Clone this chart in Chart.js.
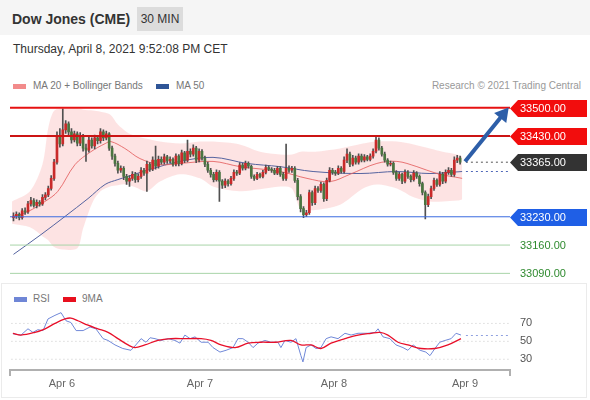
<!DOCTYPE html>
<html><head><meta charset="utf-8">
<script src="https://cdn.jsdelivr.net/npm/chart.js@4.4.1/dist/chart.umd.min.js"></script>
<style>
body{margin:0;width:590px;height:400px;position:relative;overflow:hidden;background:#fff;font-family:"Liberation Sans",Arial,sans-serif}
.a{position:absolute;white-space:nowrap}
canvas{position:absolute;left:0;top:0}
</style></head><body>
<div class="a" style="left:0;top:0;width:590px;height:35px;background:#f5f5f5"></div>
<div class="a" style="left:12px;top:11px;font-size:14px;font-weight:bold;color:#333;line-height:17px">Dow Jones (CME)</div>
<div class="a" style="left:137px;top:7px;width:46px;height:24px;background:#dcdcdc;font-size:12px;color:#333;line-height:24px;text-align:center">30 MIN</div>
<div class="a" style="left:13px;top:42px;font-size:12px;color:#333;line-height:14px">Thursday, April 8, 2021 9:52:08 PM CET</div>
<div class="a" style="left:13px;top:84px;width:13px;height:5px;background:#f28b8b"></div>
<div class="a" style="left:33px;top:80px;font-size:10px;color:#777;line-height:12px">MA 20 + Bollinger Bands</div>
<div class="a" style="left:156px;top:84px;width:13px;height:5px;background:#2f5597"></div>
<div class="a" style="left:176px;top:80px;font-size:10px;color:#777;line-height:12px">MA 50</div>
<div class="a" style="right:9px;top:80px;font-size:10px;color:#999;line-height:12px">Research © 2021 Trading Central</div>
<div class="a" style="left:1px;top:283px;width:584px;height:113px;border:1px solid #ebebeb"></div>
<div class="a" style="left:14px;top:297px;width:13px;height:5px;background:#6f86d6"></div>
<div class="a" style="left:33px;top:293px;font-size:10px;color:#777;line-height:12px">RSI</div>
<div class="a" style="left:63px;top:297px;width:13px;height:5px;background:#e8101e"></div>
<div class="a" style="left:82px;top:293px;font-size:10px;color:#777;line-height:12px">9MA</div>
<canvas id="c1" width="590" height="400"></canvas>
<canvas id="c2" width="590" height="400"></canvas>
<script>
// ---- candles (30 min bars, index 0..154) ----
const opens=[33228,33232,33236,33228,33245,33242,33262,33270,33258,33266,33262,33278,33284,33300,33325,33365,33430,33410,33445,33460,33440,33420,33435,33412,33430,33400,33395,33420,33405,33425,33418,33440,33425,33435,33400,33380,33362,33345,33350,33330,33318,33325,33335,33322,33330,33345,33338,33360,33348,33370,33355,33372,33365,33378,33368,33372,33360,33380,33362,33388,33370,33392,33385,33400,33370,33392,33375,33360,33345,33335,33322,33340,33318,33308,33318,33312,33325,33340,33338,33358,33350,33362,33355,33330,33325,33335,33330,33340,33352,33348,33345,33338,33350,33335,33325,33350,33345,33350,33320,33280,33250,33235,33240,33290,33265,33300,33295,33310,33275,33320,33345,33340,33338,33350,33342,33370,33385,33360,33375,33365,33380,33370,33378,33372,33380,33392,33420,33400,33385,33370,33360,33362,33340,33325,33335,33318,33340,33330,33322,33338,33330,33312,33290,33260,33280,33300,33320,33310,33335,33318,33340,33345,33335,33370,33375];
const highs=[33240,33242,33240,33250,33252,33268,33278,33275,33272,33270,33285,33290,33306,33332,33372,33440,33448,33497,33468,33465,33448,33442,33440,33438,33434,33410,33428,33425,33432,33430,33448,33445,33442,33438,33405,33385,33368,33356,33354,33335,33332,33342,33340,33336,33352,33350,33368,33364,33378,33405,33380,33378,33385,33382,33378,33376,33386,33384,33395,33392,33420,33398,33408,33404,33398,33396,33380,33365,33350,33340,33346,33344,33322,33324,33322,33330,33346,33345,33364,33362,33368,33366,33358,33334,33340,33338,33345,33358,33356,33352,33350,33355,33354,33340,33410,33356,33355,33354,33325,33285,33255,33246,33296,33294,33306,33305,33316,33314,33326,33352,33350,33345,33356,33354,33378,33398,33390,33382,33380,33386,33385,33384,33382,33386,33398,33428,33425,33404,33390,33374,33368,33366,33344,33340,33338,33346,33344,33334,33344,33342,33334,33316,33294,33286,33306,33326,33324,33342,33340,33346,33352,33350,33378,33382,33380];
const lows=[33220,33226,33222,33224,33236,33238,33256,33254,33252,33256,33258,33272,33280,33296,33320,33360,33402,33405,33436,33432,33412,33415,33405,33406,33392,33367,33390,33400,33398,33410,33412,33418,33420,33394,33372,33355,33338,33340,33322,33310,33305,33320,33315,33316,33325,33332,33293,33342,33344,33348,33350,33360,33360,33362,33364,33355,33356,33356,33358,33364,33366,33378,33380,33364,33366,33370,33354,33340,33328,33316,33318,33268,33300,33302,33306,33308,33320,33332,33334,33345,33346,33350,33325,33320,33322,33326,33326,33336,33344,33340,33334,33334,33330,33320,33320,33340,33340,33315,33272,33242,33228,33230,33236,33258,33260,33290,33290,33268,33270,33316,33335,33332,33334,33338,33338,33364,33354,33356,33360,33360,33366,33366,33368,33368,33375,33388,33395,33380,33365,33355,33356,33335,33320,33320,33312,33314,33325,33316,33318,33325,33306,33284,33225,33255,33275,33295,33305,33306,33312,33314,33335,33330,33330,33364,33360];
const closes=[33232,33236,33228,33245,33242,33262,33270,33258,33266,33262,33278,33284,33300,33325,33365,33430,33410,33445,33460,33440,33420,33435,33412,33430,33400,33395,33420,33405,33425,33418,33440,33425,33435,33400,33380,33362,33345,33350,33330,33318,33325,33335,33322,33330,33345,33338,33360,33348,33370,33355,33372,33365,33378,33368,33372,33360,33380,33362,33388,33370,33392,33385,33400,33370,33392,33375,33360,33345,33335,33322,33340,33318,33308,33318,33312,33325,33340,33338,33358,33350,33362,33355,33330,33325,33335,33330,33340,33352,33348,33345,33338,33350,33335,33325,33350,33345,33350,33320,33280,33250,33235,33240,33290,33265,33300,33295,33310,33275,33320,33345,33340,33338,33350,33342,33370,33385,33360,33375,33365,33380,33370,33378,33372,33380,33392,33420,33400,33385,33370,33360,33362,33340,33325,33335,33318,33340,33330,33322,33338,33330,33312,33290,33260,33280,33300,33320,33310,33335,33318,33340,33345,33335,33370,33375,33365];
// ---- Bollinger bands / moving averages (sampled along bar index) ----
const bandX=[-0.5,5.7,10,12,14,17,22,24,27.4,30,33.3,36,39,42,46,50.5,57.4,64.3,68.8,78,85,92,96,99,104,112.6,120.5,125.3,132.2,138,143.6,148,153,154.7];
const bandUpper=[33268,33293,33360,33450,33492,33497,33497,33495,33493,33490,33483,33458,33440,33430,33423,33416,33411,33416,33416,33409,33391,33384,33384,33391,33391,33399,33411,33416,33416,33409,33399,33391,33384,33379];
const bandLower=[33213,33204,33182,33172,33155,33149,33152,33201,33268,33293,33305,33308,33310,33303,33293,33317,33335,33325,33305,33293,33298,33305,33300,33250,33247,33260,33300,33310,33300,33278,33268,33268,33270,33273];
const ma20X=[0,5,10.9,15.3,21.2,26.7,31.6,33.6,38.4,43.6,50.5,57.4,68.8,78.1,91.9,101.2,109.1,116,125.3,132.2,139.1,146,154.7];
const ma20=[33231,33243,33268,33293,33359,33391,33411,33416,33399,33374,33359,33362,33367,33354,33342,33325,33317,33335,33362,33367,33354,33337,33325];
const ma50X=[0,9.5,17.8,25.7,31.6,36,39.5,47,57.4,68.8,80.5,91.9,103.3,119.5,132.2,143.6,154.7];
const ma50=[33137,33186,33231,33275,33310,33322,33330,33347,33367,33377,33362,33354,33342,33337,33342,33337,33342];
// ---- levels ----
const resistanceLevels=[33500,33430];
const supportLevels=[33230,33160,33090];
const lastPrice=33365;
const arrowX=[155.7,168.8];
const arrowY=[33367,33483];
// ---- RSI panel ----
const rsiX=[-0.2,2.6,5,6.7,8.4,10.2,11.9,14.3,16.4,18.1,19.8,21.6,24,26.4,28.4,30.9,32.6,35,37.7,40.5,42.2,44,45.7,47.1,48.8,50.9,53.3,55.7,57.4,59.1,60.9,62.6,64.7,67.1,68.8,71.2,73.3,75.7,77.4,79.1,80.9,82.6,84.3,86.7,88.8,91.2,92.2,93.6,95.7,97.4,99.1,99.8,100.9,102.6,104.3,106,107.8,109.5,111.9,114.3,116.4,118.8,122.2,124.7,125.7,127.4,129.8,131.9,134.3,136,137.8,140.2,142.2,143.6,145.3,147,148.8,150.9,152.6,154.3];
const rsi=[58.5,57,64,60,63,62,75,79,82,73,71,62,62,66,64,53,51,46,42,40,46,53,49,54,53,51,53,51,48,57,53,55,49,49,43,38,40,43,53,53,49,43,48,51,49,49,43,51,49,53,34,27,43,46,42,43,53,55,53,59,57,59,59,60,64,55,53,46,43,40,46,40,38,34,42,49,51,53,59,57];
const ma9X=[-0.2,2.6,7.4,10.9,14.3,17.8,19.8,22.2,25.7,29.1,32.6,36,39.5,41.9,45.3,49.8,54.3,59.1,64.7,68.1,71.6,76.4,80.9,85.3,90.2,95.7,99.1,102.6,106,109.5,114.3,118.8,123.3,126.4,129.1,132.6,136,140.5,145.3,149.8,154.3];
const ma9=[59,57,60,64,70,75,76,73,68,64,60,53,46,43,46,51,53,53,53,51,46,43,48,49,49,51,46,46,42,48,53,57,59,60,57,49,46,42,42,46,53];
const rsiLevels=[70,50,30];
const rsiLast=56.5;
// ---- time axis ----
const dateTickX=[16.7,64.3,110.5,155.7];
const dateTickLabels=['Apr 6','Apr 7','Apr 8','Apr 9'];

const X_MIN=-1.2, X_MAX=171.2, X_END=156;
const FONT='"Liberation Sans", Arial, sans-serif';
const pts=(xs,ys)=>xs.map((x,i)=>({x,y:ys[i]}));
const hline=(y,x0,x1)=>[{x:x0===undefined?X_MIN:x0,y},{x:x1===undefined?X_MAX:x1,y}];
const lineDs=(data,color,width,extra)=>Object.assign({type:'line',data,borderColor:color,borderWidth:width,pointRadius:0,fill:false,tension:0},extra||{});

const resColors=['#e61212','#cc1414'];
const supColors=['#3a6be0','#a9d4a9','#a9d4a9'];
const mainSets=[
  lineDs(pts(arrowX,arrowY),'#2d5ea8',4,{order:0,clip:false,pointRadius:[0,9],pointStyle:'triangle',pointRotation:39,pointBackgroundColor:'#2d5ea8',pointBorderWidth:0}),
  ...resistanceLevels.map((v,i)=>lineDs(hline(v),resColors[i],2,{order:1})),
  ...supportLevels.map((v,i)=>lineDs(hline(v),supColors[i],1,{order:1})),
  lineDs(hline(lastPrice,X_END),'#555',1,{borderDash:[2,3],order:1}),
  lineDs(hline(ma50[ma50.length-1],X_END),'#5068b8',1,{borderDash:[2,3],order:1}),
  {type:'bar',data:closes.map((c,i)=>({x:i,y:[opens[i],c]})),backgroundColor:closes.map((c,i)=>c>=opens[i]?'#c92a2a':'#4a7540'),barThickness:2,grouped:false,minBarLength:1,order:3},
  {type:'bar',data:closes.map((c,i)=>({x:i,y:[lows[i],highs[i]]})),backgroundColor:'#505050',barThickness:1,grouped:false,order:4},
  lineDs(pts(ma20X,ma20),'rgba(228,95,95,0.85)',1,{order:6,tension:0.35}),
  lineDs(pts(ma50X,ma50),'#55639f',1,{order:6,tension:0.35}),
  lineDs(pts(bandX,bandUpper),'rgba(0,0,0,0)',0,{fill:'+1',backgroundColor:'rgba(245,90,90,0.17)',order:10,tension:0.3}),
  lineDs(pts(bandX,bandLower),'rgba(0,0,0,0)',0,{order:10,tension:0.3})
];

const levelLabels={id:'levelLabels',afterDatasetsDraw(chart){
  const ctx=chart.ctx, ys=chart.scales.y, x0=chart.chartArea.right;
  ctx.save();
  ctx.font='11px '+FONT; ctx.textBaseline='middle'; ctx.textAlign='left';
  const boxes=[[resistanceLevels[0],'#f20d0d'],[resistanceLevels[1],'#f20d0d'],[lastPrice,'#333333'],[supportLevels[0],'#1f5fe6']];
  boxes.forEach(([v,c])=>{
    const py=Math.round(ys.getPixelForValue(v))+0.5;
    ctx.fillStyle=c; ctx.beginPath();
    ctx.moveTo(x0,py); ctx.lineTo(x0+8,py-8.5); ctx.lineTo(587,py-8.5); ctx.lineTo(587,py+8.5); ctx.lineTo(x0+8,py+8.5); ctx.closePath(); ctx.fill();
    ctx.fillStyle='#fff'; ctx.fillText(v.toFixed(2),x0+10,py+0.5);
  });
  supportLevels.slice(1).forEach(v=>{
    const py=Math.round(ys.getPixelForValue(v))+0.5;
    ctx.fillStyle='#2f8a2f'; ctx.fillText(v.toFixed(2),x0+10,py+0.5);
  });
  ctx.restore();
}};

new Chart(document.getElementById('c1'),{
  type:'bar',
  data:{datasets:mainSets},
  options:{responsive:false,animation:false,devicePixelRatio:1,
    layout:{padding:{left:10,right:80,top:95.5,bottom:114.5}},
    plugins:{legend:{display:false},tooltip:{enabled:false}},
    scales:{
      x:{type:'linear',min:X_MIN,max:X_MAX,offset:false,display:false},
      y:{type:'linear',min:33060,max:33530,display:false}
    }},
  plugins:[levelLabels]
});

new Chart(document.getElementById('c2'),{
  type:'line',
  data:{datasets:[
    lineDs(pts(ma9X,ma9),'#e8102a',1.3,{tension:0.35}),
    lineDs(pts(rsiX,rsi),'#7088d8',1),
    lineDs(hline(rsiLast,X_END),'#8fa0e0',1,{borderDash:[2,3]}),
    ...rsiLevels.map(v=>lineDs(hline(v,X_MIN+0.5,X_MAX-0.5),'#c8c8c8',1,{borderDash:[1,3]}))
  ]},
  options:{responsive:false,animation:false,devicePixelRatio:1,
    layout:{padding:{left:10,right:10,top:305.5,bottom:0}},
    plugins:{legend:{display:false},tooltip:{enabled:false}},
    scales:{
      x:{type:'linear',min:X_MIN,max:X_MAX,offset:false,
        afterFit:s=>{s.height=30;},
        afterBuildTicks:s=>{s.ticks=[X_MIN,...dateTickX,X_MAX].map(v=>({value:v}));},
        border:{display:true,color:'#b0b0b0',width:2},
        grid:{drawOnChartArea:false,drawTicks:true,tickLength:6,lineWidth:2,color:c=>(c.index===0||c.index===dateTickX.length+1)?'#b0b0b0':'rgba(0,0,0,0)'},
        ticks:{autoSkip:false,maxRotation:0,padding:1,color:'#666',font:{family:FONT,size:11},
          callback:v=>{const k=dateTickX.indexOf(v);return k>=0?dateTickLabels[k]:'';}}},
      y:{type:'linear',position:'right',min:18,max:90,
        afterFit:s=>{s.width=70;},
        afterBuildTicks:s=>{s.ticks=rsiLevels.map(v=>({value:v}));},
        grid:{display:false,drawTicks:false},border:{display:false},
        ticks:{padding:10,color:'#555',font:{family:FONT,size:11},callback:v=>String(v)}}
    }}
});
</script>
</body></html>
